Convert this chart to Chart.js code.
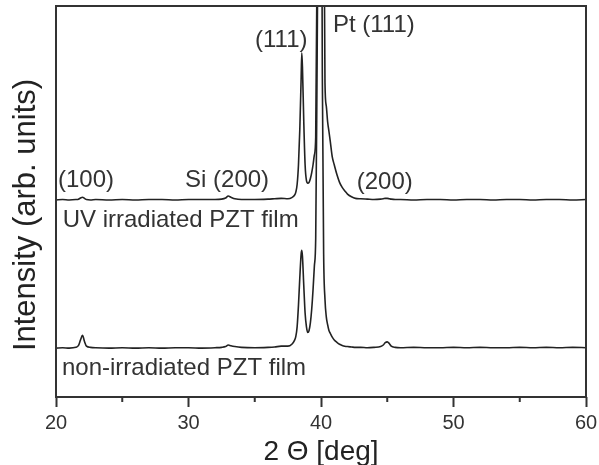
<!DOCTYPE html>
<html>
<head>
<meta charset="utf-8">
<script src="https://cdn.jsdelivr.net/npm/chart.js@4.4.1/dist/chart.umd.min.js"></script>
<style>
  html, body { margin: 0; padding: 0; background: #fff; }
  #wrap { width: 599px; height: 465px; }
</style>
</head>
<body>
<div id="wrap"><canvas id="xrdChart" width="599" height="465"></canvas></div>
<script>
// 2 theta positions (deg), shared by both scans
var angles = [
  20, 20.5, 21, 21.5, 21.7, 21.85, 22.0, 22.15, 22.3, 22.6,
  23, 24, 25, 26, 27, 28, 29, 30, 31, 32,
  32.5, 32.8, 33.0, 33.2, 33.5, 34, 35, 36, 36.5, 37,
  37.5, 37.8, 38.0, 38.1, 38.2, 38.3, 38.4, 38.5, 38.55, 38.6,
  38.7, 38.8, 38.9, 39.0, 39.1, 39.2, 39.3, 39.4, 39.5, 39.6,
  39.7, 39.8, 39.9, 40.0, 40.1, 40.2, 40.3, 40.4, 40.5, 40.6,
  40.7, 40.85, 41.0, 41.2, 41.4, 41.6, 41.8, 42.0, 42.3, 42.6,
  43, 43.5, 44, 44.5, 44.7, 44.85, 45.0, 45.15, 45.3, 45.6,
  46, 47, 48, 49, 50, 51, 52, 53, 54, 55,
  56, 57, 58, 59, 60
];

// non-irradiated film
var plainIntensity = [
  12.5, 12.6, 12.5, 12.7, 13.2, 14.6, 15.8, 14.2, 13.0, 12.7,
  12.6, 12.5, 12.6, 12.5, 12.6, 12.5, 12.6, 12.6, 12.5, 12.6,
  12.7, 12.9, 13.3, 13.1, 12.9, 12.7, 12.6, 12.7, 12.8, 13.0,
  13.0, 13.5, 14.5, 15.5, 18.0, 23.5, 30.5, 36.5, 37.5, 36.0,
  28.5, 21.5, 18.0, 16.5, 17.0, 19.0, 22.5, 27.5, 33.5, 40.5,
  82.5, 132.5, 162.5, 172.5, 82.5, 36.5, 25.0, 20.5, 18.5, 17.0,
  16.3, 15.3, 14.6, 14.0, 13.5, 13.2, 13.0, 12.9, 12.8, 12.7,
  12.7, 12.6, 12.7, 12.9, 13.3, 13.9, 14.1, 13.7, 13.0, 12.7,
  12.6, 12.7, 12.6, 12.6, 12.7, 12.6, 12.7, 12.6, 12.6, 12.7,
  12.6, 12.7, 12.6, 12.7, 12.6
];

// UV irradiated film
var uvIntensity = [
  12.5, 12.6, 12.5, 12.6, 12.7, 13.0, 13.2, 12.9, 12.6, 12.5,
  12.6, 12.5, 12.6, 12.5, 12.6, 12.6, 12.5, 12.6, 12.6, 12.6,
  12.7, 13.0, 13.5, 13.2, 12.8, 12.6, 12.6, 12.7, 12.8, 12.9,
  12.8, 13.1, 13.7, 14.5, 16.5, 21.5, 30.5, 43.5, 50.1, 46.5,
  32.5, 21.5, 17.5, 16.8, 17.0, 18.0, 19.5, 21.5, 24.0, 28.5,
  72.5, 142.5, 212.5, 242.5, 192.5, 102.5, 42.5, 36.5, 32.5, 30.0,
  27.5, 23.5, 21.5, 19.0, 17.0, 15.7, 14.8, 14.0, 13.3, 12.9,
  12.8, 12.7, 12.6, 12.7, 12.8, 12.9, 12.9, 12.8, 12.7, 12.6,
  12.6, 12.5, 12.6, 12.6, 12.5, 12.6, 12.6, 12.5, 12.6, 12.6,
  12.5, 12.6, 12.6, 12.5, 12.6
];

// vertical shift of the UV scan in the stacked plot
var uvOffset = 37.9;

var xTicks = [20, 30, 40, 50, 60];
var xMinorTicks = [25, 35, 45, 55];

// peak labels: text, 2theta, intensity
var peakLabels = [
  ['(100)', 20.15, 55.5],
  ['Si (200)', 29.74, 55.5],
  ['(111)', 35.02, 91.3],
  ['Pt (111)', 40.9, 95.1],
  ['(200)', 42.7, 55.0],
  ['UV irradiated PZT film', 20.5, 45.3],
  ['non-irradiated PZT film', 20.45, 7.4]
];

var yTitle = 'Intensity (arb. units)';

var ink = '#222';
var fontFamily = '"Liberation Sans", Arial, Helvetica, sans-serif';
Chart.defaults.font.family = fontFamily;
Chart.defaults.color = ink;

function toPoints(values, shift) {
  return angles.map(function (a, i) { return { x: a, y: values[i] + shift }; });
}

// box round the plot + short minor ticks + y title
var framePlugin = {
  id: 'frame',
  afterDraw: function (chart) {
    var c = chart.ctx, a = chart.chartArea, xs = chart.scales.x;
    c.save();
    c.strokeStyle = '#333';
    c.lineWidth = 2;
    c.strokeRect(a.left, a.top, a.right - a.left, a.bottom - a.top);
    c.beginPath();
    xMinorTicks.forEach(function (v) {
      var px = xs.getPixelForValue(v);
      c.moveTo(px, a.bottom);
      c.lineTo(px, a.bottom + 5);
    });
    c.stroke();
    // y title sits a bit below the middle of the plot in the original
    c.translate(35, 215);
    c.rotate(-Math.PI / 2);
    c.fillStyle = ink;
    c.font = '31px ' + fontFamily;
    c.textAlign = 'center';
    c.textBaseline = 'alphabetic';
    c.fillText(yTitle, 0, 0);
    c.restore();
  }
};

var labelPlugin = {
  id: 'peakLabels',
  afterDatasetsDraw: function (chart) {
    var c = chart.ctx, xs = chart.scales.x, ys = chart.scales.y;
    c.save();
    c.fillStyle = '#333';
    c.font = '24px ' + fontFamily;
    c.textAlign = 'left';
    c.textBaseline = 'middle';
    peakLabels.forEach(function (l) {
      c.fillText(l[0], xs.getPixelForValue(l[1]), ys.getPixelForValue(l[2]));
    });
    c.restore();
  }
};

var ctx = document.getElementById('xrdChart').getContext('2d');
var xrdChart = new Chart(ctx, {
  type: 'line',
  data: {
    datasets: [{
      label: 'UV irradiated PZT film',
      data: toPoints(uvIntensity, uvOffset),
      borderColor: ink,
      borderWidth: 1.6,
      pointRadius: 0,
      cubicInterpolationMode: 'monotone',
      fill: false
    }, {
      label: 'non-irradiated PZT film',
      data: toPoints(plainIntensity, 0),
      borderColor: ink,
      borderWidth: 1.6,
      pointRadius: 0,
      cubicInterpolationMode: 'monotone',
      fill: false
    }]
  },
  options: {
    responsive: false,
    animation: false,
    layout: { padding: { top: 6, right: 13, left: 0, bottom: 0 } },
    plugins: { legend: { display: false }, tooltip: { enabled: false } },
    scales: {
      x: {
        type: 'linear',
        min: 20,
        max: 60,
        afterBuildTicks: function (s) { s.ticks = xTicks.map(function (v) { return { value: v }; }); },
        ticks: { font: { size: 20 }, color: '#333', padding: 4, maxRotation: 0 },
        grid: { drawOnChartArea: false, drawTicks: true, tickLength: 10, tickWidth: 2, tickColor: '#333' },
        border: { display: false },
        title: { display: true, text: '2 \u0398 [deg]', font: { size: 28, lineHeight: 0.9 }, color: ink, padding: { top: 0, bottom: 0 } },
        afterFit: function (s) {
          s.height = 68;
          s.paddingLeft = 0;
          s.paddingRight = 0;
        }
      },
      y: {
        min: 0,
        max: 100,
        ticks: { display: false },
        grid: { display: false },
        border: { display: false },
        title: { display: false },
        afterFit: function (s) { s.width = 56; }
      }
    }
  },
  plugins: [framePlugin, labelPlugin]
});
</script>
</body>
</html>
